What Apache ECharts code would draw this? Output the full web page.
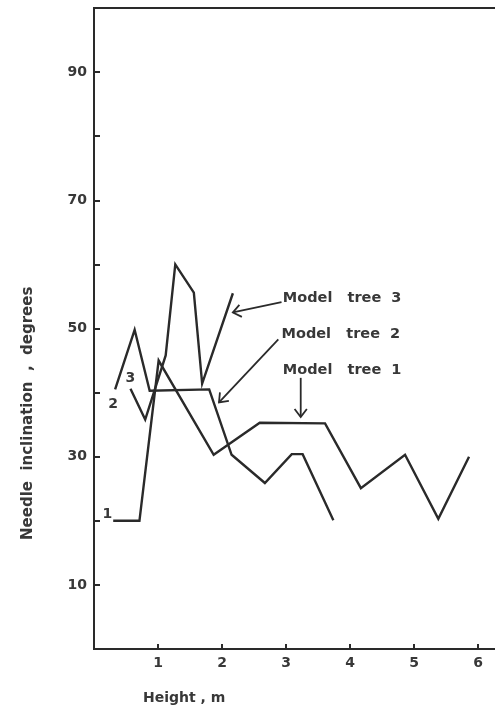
<!DOCTYPE html>
<html>
<head>
<meta charset="utf-8">
<script src="https://cdn.jsdelivr.net/npm/echarts@6/dist/echarts.min.js"></script>
<style>
  html, body { margin: 0; padding: 0; background: #fff; }
  #chart { width: 495px; height: 708px; }
</style>
</head>
<body>
<div id="chart"></div>
<script>
// Needle inclination (degrees) against height (m) for three model trees
const tree1Height = [0.30, 0.71, 1.01, 1.87, 2.59, 3.61, 4.17, 4.86, 5.38, 5.86];
const tree1Angle  = [20.0, 20.0, 45.0, 30.3, 35.3, 35.2, 25.1, 30.3, 20.3, 30.0];

const tree2Height = [0.33, 0.635, 0.87, 1.80, 2.15, 2.67, 3.09, 3.26, 3.74];
const tree2Angle  = [40.5, 49.8, 40.3, 40.5, 30.3, 25.9, 30.4, 30.4, 20.1];

const tree3Height = [0.57, 0.80, 1.12, 1.27, 1.56, 1.69, 2.17];
const tree3Angle  = [40.6, 35.8, 45.8, 60.0, 55.6, 41.4, 55.5];

const seriesNames = ['Model tree 1', 'Model tree 2', 'Model tree 3'];
const yTickLabels = ['10', '30', '50', '70', '90'];
const xTickLabels = ['1', '2', '3', '4', '5', '6'];

// caption anchors and leader arrows (tail -> tip), in axis units
const captionAt = [[2.95, 43.5], [2.93, 49.1], [2.95, 54.7]];
const arrowTail = [[3.23, 42.3], [2.88, 48.3], [2.93, 54.1]];
const arrowTip  = [[3.23, 36.2], [1.953, 38.47], [2.17, 52.5]];

const INK = '#2a2a2a';
const TEXT = '#383838';
const FONT = '"DejaVu Sans", "Liberation Sans", Arial, sans-serif';

function points(xs, ys, tag, labelPos, labelOffset) {
  return xs.map((x, i) => {
    const item = { value: [x, ys[i]] };
    if (i === 0) {
      item.label = {
        show: true, formatter: tag, position: labelPos, offset: labelOffset,
        color: TEXT, fontFamily: FONT, fontWeight: 'bold', fontSize: 14
      };
    }
    return item;
  });
}

// spaced-out caption text, e.g. "Model   tree  1"
function spaced(name) {
  const w = name.split(' ');
  return w[0] + '   ' + w[1] + '  ' + w[2];
}

function caption(i) {
  return {
    markPoint: {
      silent: true,
      symbol: 'circle',
      symbolSize: 0,
      data: [{ coord: captionAt[i] }],
      label: {
        show: true, position: 'right', distance: 0,
        formatter: spaced(seriesNames[i]),
        color: TEXT, fontFamily: FONT, fontWeight: 'bold', fontSize: 14.5
      }
    }
  };
}

const lineStyle = { color: INK, width: 2.4, join: 'miter' };
const curve = {
  type: 'line', symbol: 'circle', symbolSize: 0, showSymbol: true,
  itemStyle: { color: INK }, lineStyle
};

const chart = echarts.init(document.getElementById('chart'), null, { renderer: 'canvas' });

chart.setOption({
  backgroundColor: '#fff',
  animation: false,
  grid: {
    left: 94, top: 8, height: 641, width: 416,
    outerBoundsMode: 'none', containLabel: false,
    show: true, borderColor: INK, borderWidth: 2
  },
  xAxis: {
    type: 'value', min: 0, max: 6.5, interval: 1,
    axisLine: { show: true, onZero: false, lineStyle: { color: INK, width: 2 } },
    axisTick: { show: true, inside: true, length: 5, lineStyle: { color: INK, width: 2 } },
    splitLine: { show: false },
    axisLabel: {
      margin: 7, color: TEXT, fontFamily: FONT, fontWeight: 'bold', fontSize: 14,
      formatter: v => xTickLabels.includes(String(v)) ? String(v) : ''
    }
  },
  yAxis: {
    type: 'value', min: 0, max: 100, interval: 10,
    axisLine: { show: true, onZero: false, lineStyle: { color: INK, width: 2 } },
    axisTick: { show: true, inside: true, length: 6, lineStyle: { color: INK, width: 2 } },
    splitLine: { show: false },
    axisLabel: {
      margin: 7, color: TEXT, fontFamily: FONT, fontWeight: 'bold', fontSize: 14,
      formatter: v => yTickLabels.includes(String(v)) ? String(v) : ''
    }
  },
  series: [
    Object.assign({}, curve, {
      name: seriesNames[0],
      data: points(tree1Height, tree1Angle, '1', 'left', [4, -6])
    }, caption(0)),
    Object.assign({}, curve, {
      name: seriesNames[1],
      data: points(tree2Height, tree2Angle, '2', 'bottom', [-2, 3])
    }, caption(1)),
    Object.assign({}, curve, {
      name: seriesNames[2],
      data: points(tree3Height, tree3Angle, '3', 'top', [0, 2])
    }, caption(2))
  ]
});

// leader arrows with open heads, placed through the grid's own scales
const toPx = p => chart.convertToPixel({ gridIndex: 0 }, p);
const arrows = [];
arrowTail.forEach((tail, i) => {
  const a = toPx(tail), b = toPx(arrowTip[i]);
  const ang = Math.atan2(a[1] - b[1], a[0] - b[0]);
  const len = 10, spread = 0.66;
  const h1 = [b[0] + len * Math.cos(ang + spread), b[1] + len * Math.sin(ang + spread)];
  const h2 = [b[0] + len * Math.cos(ang - spread), b[1] + len * Math.sin(ang - spread)];
  const style = { stroke: INK, lineWidth: 1.8, fill: null, lineJoin: 'miter' };
  arrows.push({ type: 'polyline', silent: true, z: 5, shape: { points: [a, b] }, style });
  arrows.push({ type: 'polyline', silent: true, z: 5, shape: { points: [h1, b, h2] }, style });
});

chart.setOption({
  graphic: arrows.concat([
    {
      type: 'text', x: 143, y: 698, silent: true,
      style: { text: 'Height , m', fill: TEXT, font: 'bold 14px ' + FONT, verticalAlign: 'middle' }
    },
    {
      type: 'text', x: 28, y: 540, rotation: Math.PI / 2, silent: true,
      style: {
        text: 'Needle  inclination  ,  degrees', fill: TEXT, font: 'bold 15px ' + FONT,
        align: 'left', verticalAlign: 'middle'
      }
    }
  ])
});
</script>
</body>
</html>
